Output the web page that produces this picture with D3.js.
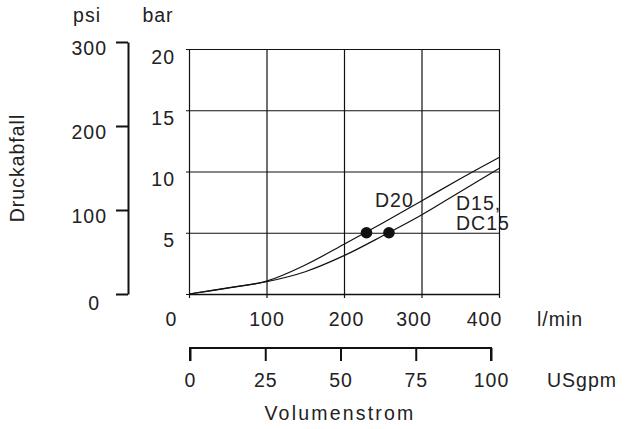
<!DOCTYPE html>
<html>
<head>
<meta charset="utf-8">
<script src="https://d3js.org/d3.v7.min.js"></script>
<style>
  body { margin: 0; background: #fff; }
  svg text { font-family: "Liberation Sans", Arial, sans-serif; font-size: 19.5px; letter-spacing: 1px; fill: #222; }
  .domain, .tick line { stroke: #111; }
</style>
</head>
<body>
<div id="chart"></div>
<script>
// flow in l/min, pressure drop in bar
var flow = [0, 50, 100, 150, 200, 250, 300, 350, 400];
var d20 = [0, 0.5, 1.05, 2.37, 4.06, 5.8, 7.6, 9.4, 11.15];
var d15 = [0, 0.48, 1.0, 1.82, 3.13, 4.75, 6.45, 8.35, 10.25];
// marked operating points [l/min, bar]
var points = [[229, 5], [258, 5]];

var lminTicks = [0, 100, 200, 300, 400];
var barTicks = [0, 5, 10, 15, 20];
var psiTicks = [0, 100, 200, 300];
var gpmTicks = [0, 25, 50, 75, 100];

var width = 626, height = 429;
var svg = d3.select("#chart").append("svg")
    .attr("width", width)
    .attr("height", height);

var x = d3.scaleLinear().domain([0, 400]).range([189, 499]);
var y = d3.scaleLinear().domain([0, 20]).range([294, 49]);
var psi = d3.scaleLinear().domain([0, 300]).range([294, 42]);
var gpm = d3.scaleLinear().domain([0, 100]).range([190, 491]);

// horizontal grid + bar labels (no label at 0)
var gy = svg.append("g")
    .attr("transform", "translate(" + (x(0) - 3) + ",0)")
    .call(d3.axisLeft(y).tickValues(barTicks).tickSize(-(x(400) - x(0) + 3)).tickSizeOuter(0)
      .tickFormat(function(d) { return d === 0 ? "" : d; }));
gy.select(".domain").remove();
gy.selectAll(".tick line").attr("stroke-width", 1.2);
gy.selectAll(".tick text").attr("dy", "0.72em").attr("x", -11);

// vertical grid
var gx = svg.append("g")
    .attr("transform", "translate(0," + y(20) + ")")
    .call(d3.axisBottom(x).tickValues(lminTicks).tickSize(y(0) - y(20) + 4).tickFormat(""));
gx.select(".domain").remove();
gx.selectAll(".tick line").attr("stroke-width", 1.2);

// bottom axis line + l/min labels
var labelShift = [-18, 0, 2, -8, -15];
var bx = svg.append("g")
    .attr("transform", "translate(0," + y(0) + ")")
    .call(d3.axisBottom(x).tickValues(lminTicks).tickSize(0).tickSizeOuter(0));
bx.select(".domain").attr("stroke-width", 1.4);
bx.selectAll(".tick text")
    .attr("y", 25).attr("dy", "0.35em")
    .attr("dx", function(d, i) { return labelShift[i]; });

svg.append("text").attr("x", 537).attr("y", 319).attr("dy", "0.35em").text("l/min");

// psi axis
var py = svg.append("g")
    .attr("transform", "translate(128,0)")
    .call(d3.axisLeft(psi).tickValues(psiTicks).tickSize(12).tickSizeOuter(0).tickPadding(9));
py.select(".domain").attr("stroke-width", 2);
py.selectAll(".tick line").attr("stroke-width", 2);
py.selectAll(".tick text")
    .attr("dy", function(d) { return d === 0 ? "0.8em" : "0.65em"; })
    .attr("dx", function(d) { return d === 0 ? -7 : 0; });

// USgpm axis
var ga = svg.append("g")
    .attr("transform", "translate(0,348)")
    .call(d3.axisBottom(gpm).tickValues(gpmTicks).tickSize(13).tickSizeOuter(13).tickPadding(10));
ga.select(".domain").attr("stroke-width", 2).attr("d", "M" + gpm(0) + ",13V0H" + gpm(100) + "V13");
ga.selectAll(".tick line").attr("stroke-width", 2);
ga.selectAll(".tick text").attr("y", 32).attr("dy", "0.35em");

svg.append("text").attr("x", 547).attr("y", 380).attr("dy", "0.35em").text("USgpm");
svg.append("text").attr("x", 340).attr("y", 413).attr("dy", "0.35em").attr("text-anchor", "middle")
    .style("letter-spacing", "2.2px").text("Volumenstrom");

svg.append("text").attr("x", 87).attr("y", 15).attr("dy", "0.35em").attr("text-anchor", "middle").text("psi");
svg.append("text").attr("x", 158).attr("y", 15).attr("dy", "0.35em").attr("text-anchor", "middle").text("bar");

svg.append("text")
    .attr("transform", "translate(17,168) rotate(-90)")
    .attr("dy", "0.35em")
    .attr("text-anchor", "middle")
    .text("Druckabfall");

// curves
var line = d3.line()
    .x(function(d, i) { return x(flow[i]); })
    .y(function(d) { return y(d); })
    .curve(d3.curveCatmullRom);

[d20, d15].forEach(function(s) {
  svg.append("path")
      .datum(s)
      .attr("d", line)
      .attr("fill", "none")
      .attr("stroke", "#111")
      .attr("stroke-width", 1.2);
});

svg.selectAll("circle.pt")
    .data(points)
    .enter().append("circle")
    .attr("class", "pt")
    .attr("cx", function(d) { return x(d[0]); })
    .attr("cy", function(d) { return y(d[1]); })
    .attr("r", 5.8)
    .attr("fill", "#111");

svg.append("text").attr("x", 375).attr("y", 200).attr("dy", "0.35em").text("D20");
svg.append("text").attr("x", 456).attr("y", 203).attr("dy", "0.35em").text("D15,");
svg.append("text").attr("x", 456).attr("y", 223).attr("dy", "0.35em").text("DC15");
</script>
</body>
</html>
